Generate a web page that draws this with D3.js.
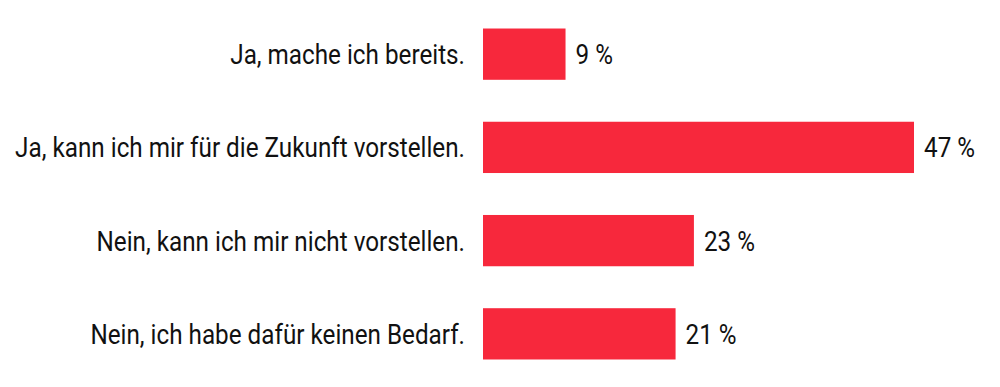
<!DOCTYPE html>
<html lang="de">
<head>
    <meta charset="UTF-8">
    <title>Umfrage</title>
    <style>
        body {
            margin: 0;
            padding: 0;
            background-color: #ffffff;
        }
        svg text {
            font-family: "Liberation Sans Narrow", "Roboto", sans-serif;
            font-size: 28px;
            fill: #111111;
        }
    </style>
</head>
<body>
    <svg width="1000" height="387"></svg>

    <script src="https://d3js.org/d3.v7.min.js"></script>
    <script>
        // data
        let categories = [
            "Ja, mache ich bereits.",
            "Ja, kann ich mir für die Zukunft vorstellen.",
            "Nein, kann ich mir nicht vorstellen.",
            "Nein, ich habe dafür keinen Bedarf."
        ];
        let values = [9, 47, 23, 21];

        let width = 1000, height = 387;
        let left = 483;

        let svg = d3.select("svg");

        // x: 47 % ends at about x=914
        let x = d3.scaleLinear()
            .domain([0, 47])
            .range([left, 914]);

        let y = d3.scaleBand()
            .domain(categories)
            .range([8, 380])
            .paddingInner(0.45)
            .paddingOuter(0.22);

        let rows = svg.selectAll("g.row")
            .data(categories)
            .enter()
            .append("g")
            .attr("class", "row");

        rows.append("rect")
            .attr("x", x(0))
            .attr("y", d => y(d))
            .attr("width", (d, i) => x(values[i]) - x(0))
            .attr("height", y.bandwidth())
            .attr("fill", "#f7283c");

        let cats = rows.append("text")
            .attr("class", "cat")
            .attr("dy", "0.36em")
            .attr("text-anchor", "end")
            .text(d => d);

        let vals = rows.append("text")
            .attr("class", "val")
            .attr("dy", "0.36em")
            .text((d, i) => values[i] + " %");

        // the original font is condensed: squeeze the fallback so the
        // longest label runs from about x=15 to x=465
        let widest = d3.max(cats.nodes(), n => n.getComputedTextLength());
        let sx = Math.min(1, 450 / widest);

        cats.attr("transform", d => `translate(${left - 18},${y(d) + y.bandwidth() / 2}) scale(${sx},1)`);
        vals.attr("transform", (d, i) => `translate(${x(values[i]) + 10},${y(d) + y.bandwidth() / 2}) scale(${sx},1)`);
    </script>
</body>
</html>
